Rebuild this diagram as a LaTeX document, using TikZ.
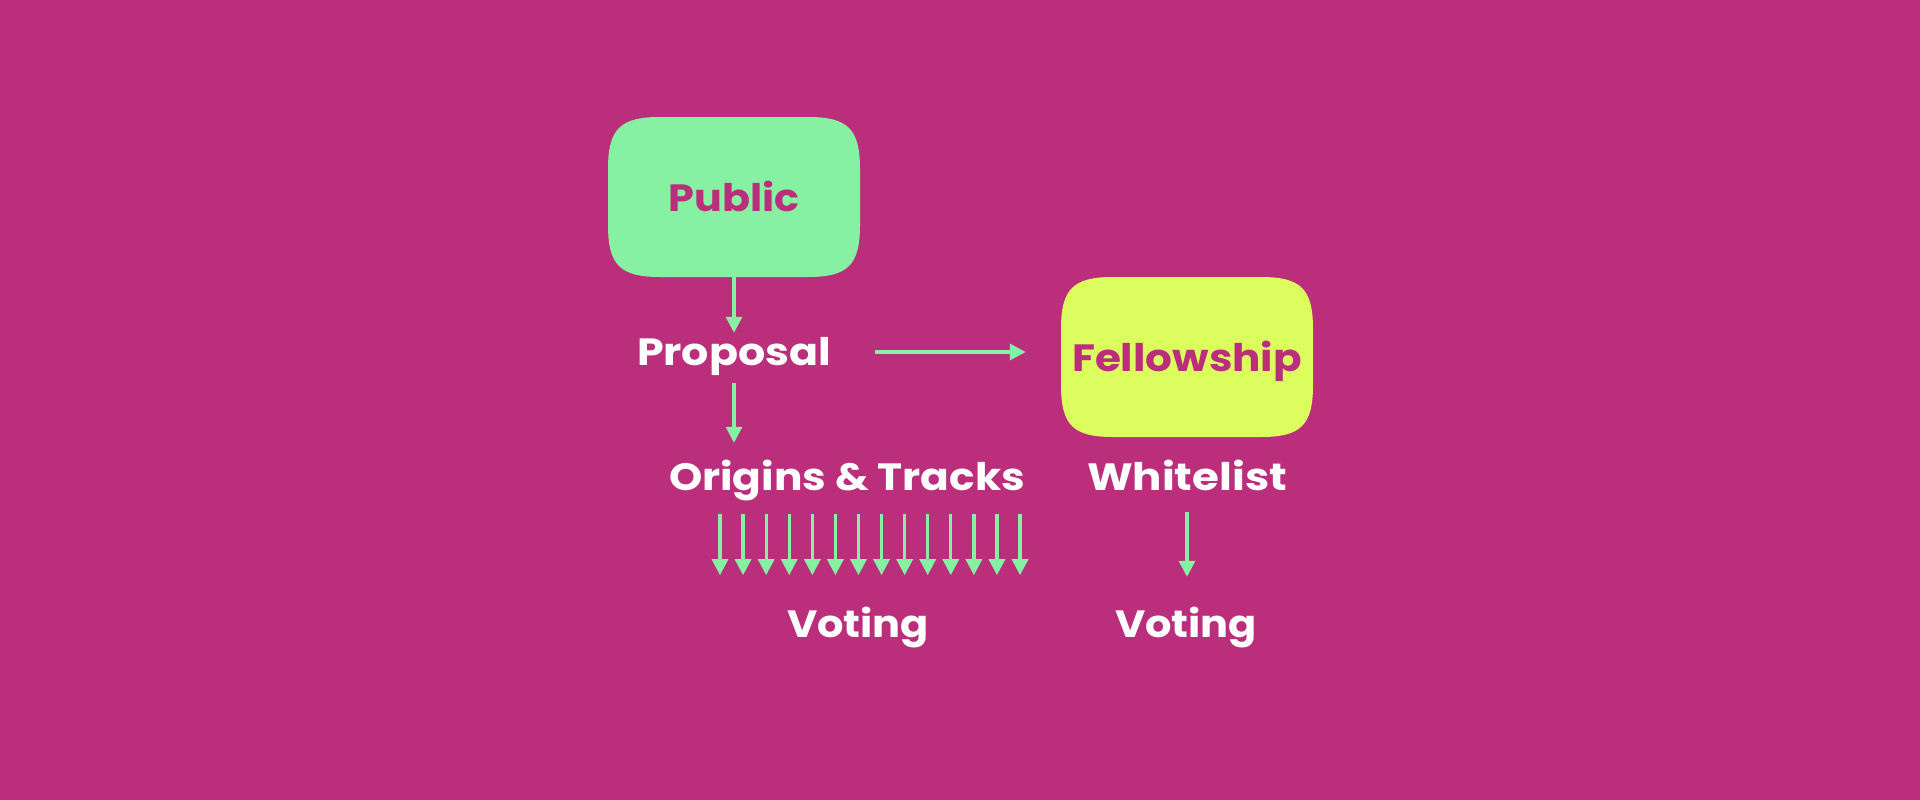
\documentclass[tikz,border=0pt]{standalone}
\usepackage{fontspec}
\usepackage{graphicx}
\setmainfont{Poppins}
\usetikzlibrary{arrows.meta,calc}

\definecolor{bgmag}{HTML}{BB2E7B}
\definecolor{mint}{HTML}{86F1A3}
\definecolor{lime}{HTML}{DCFD5E}

% set a word and stretch it horizontally to a given width
\newsavebox\fitbox
\newcommand\fitw[2]{\sbox\fitbox{#2}%
  \pgfmathsetmacro\fitsx{#1/\wd\fitbox}%
  \scalebox{\fitsx}[1]{\usebox\fitbox}}

% rounded "squircle" fill inside a node's bounding box
\newcommand\squirclefill[1]{%
  \fill[#1] let \p1=(path picture bounding box.south west),
               \p2=(path picture bounding box.north east) in
    (\x1+52pt,\y1) -- (\x2-52pt,\y1)
      .. controls (\x2-12pt,\y1) and (\x2,\y1+12pt) .. (\x2,\y1+52pt)
    -- (\x2,\y2-52pt)
      .. controls (\x2,\y2-12pt) and (\x2-12pt,\y2) .. (\x2-52pt,\y2)
    -- (\x1+52pt,\y2)
      .. controls (\x1+12pt,\y2) and (\x1,\y2-12pt) .. (\x1,\y2-52pt)
    -- (\x1,\y1+52pt)
      .. controls (\x1,\y1+12pt) and (\x1+12pt,\y1) .. (\x1+52pt,\y1) -- cycle;}

\tikzset{
  bigfont/.style={font=\fontsize{38}{40}\selectfont\bfseries},
  label/.style={bigfont, text=white, inner sep=0pt, text height=26pt, text depth=0pt},
  sqbox/.style={bigfont, text=bgmag, inner sep=0pt, text height=28pt, text depth=0pt,
    minimum width=252pt, minimum height=160pt,
    path picture={\squirclefill{#1}}},
  arr/.style={draw=mint, line width=3.3pt,
    -{Triangle[width=16pt,length=16pt]}},
}

\begin{document}
\begin{tikzpicture}[x=1pt,y=-1pt]
  \fill[bgmag] (0,0) rectangle (1920,800);
  \useasboundingbox (0,0) rectangle (1920,800);

  % boxes
  \node[sqbox=mint] (public) at (734,197) {\fitw{131pt}{Public}};
  \node[sqbox=lime] (fellowship) at (1187,357) {\fitw{230pt}{Fellowship}};

  % labels
  \node[label] (proposal) at (734,352) {\fitw{194pt}{Proposal}};
  \node[label] (origins) at (847,477) {\fitw{356pt}{Origins \& Tracks}};
  \node[label] (whitelist) at (1187,477) {\fitw{200pt}{Whitelist}};
  \node[label] (votingA) at (858,624) {\fitw{142pt}{Voting}};
  \node[label] (votingB) at (1186,624) {\fitw{142pt}{Voting}};

  % connectors
  \draw[arr, shorten >=6pt] (public.south) -- (proposal.north);
  \draw[arr, shorten <=18pt, shorten >=21pt] (proposal.south) -- (proposal.south |- origins.north);
  \draw[arr] ([xshift=141pt]proposal.center) -- ([xshift=-35pt]fellowship.west |- proposal.center);
  \foreach \i in {0,...,13}
    \draw[arr] ($(origins.south)+(-127+\i*23.08,24)$) -- ++(0,61);
  \draw[arr, shorten <=22pt, shorten >=34pt] (whitelist.south) -- (whitelist.south |- votingB.north);
\end{tikzpicture}
\end{document}
